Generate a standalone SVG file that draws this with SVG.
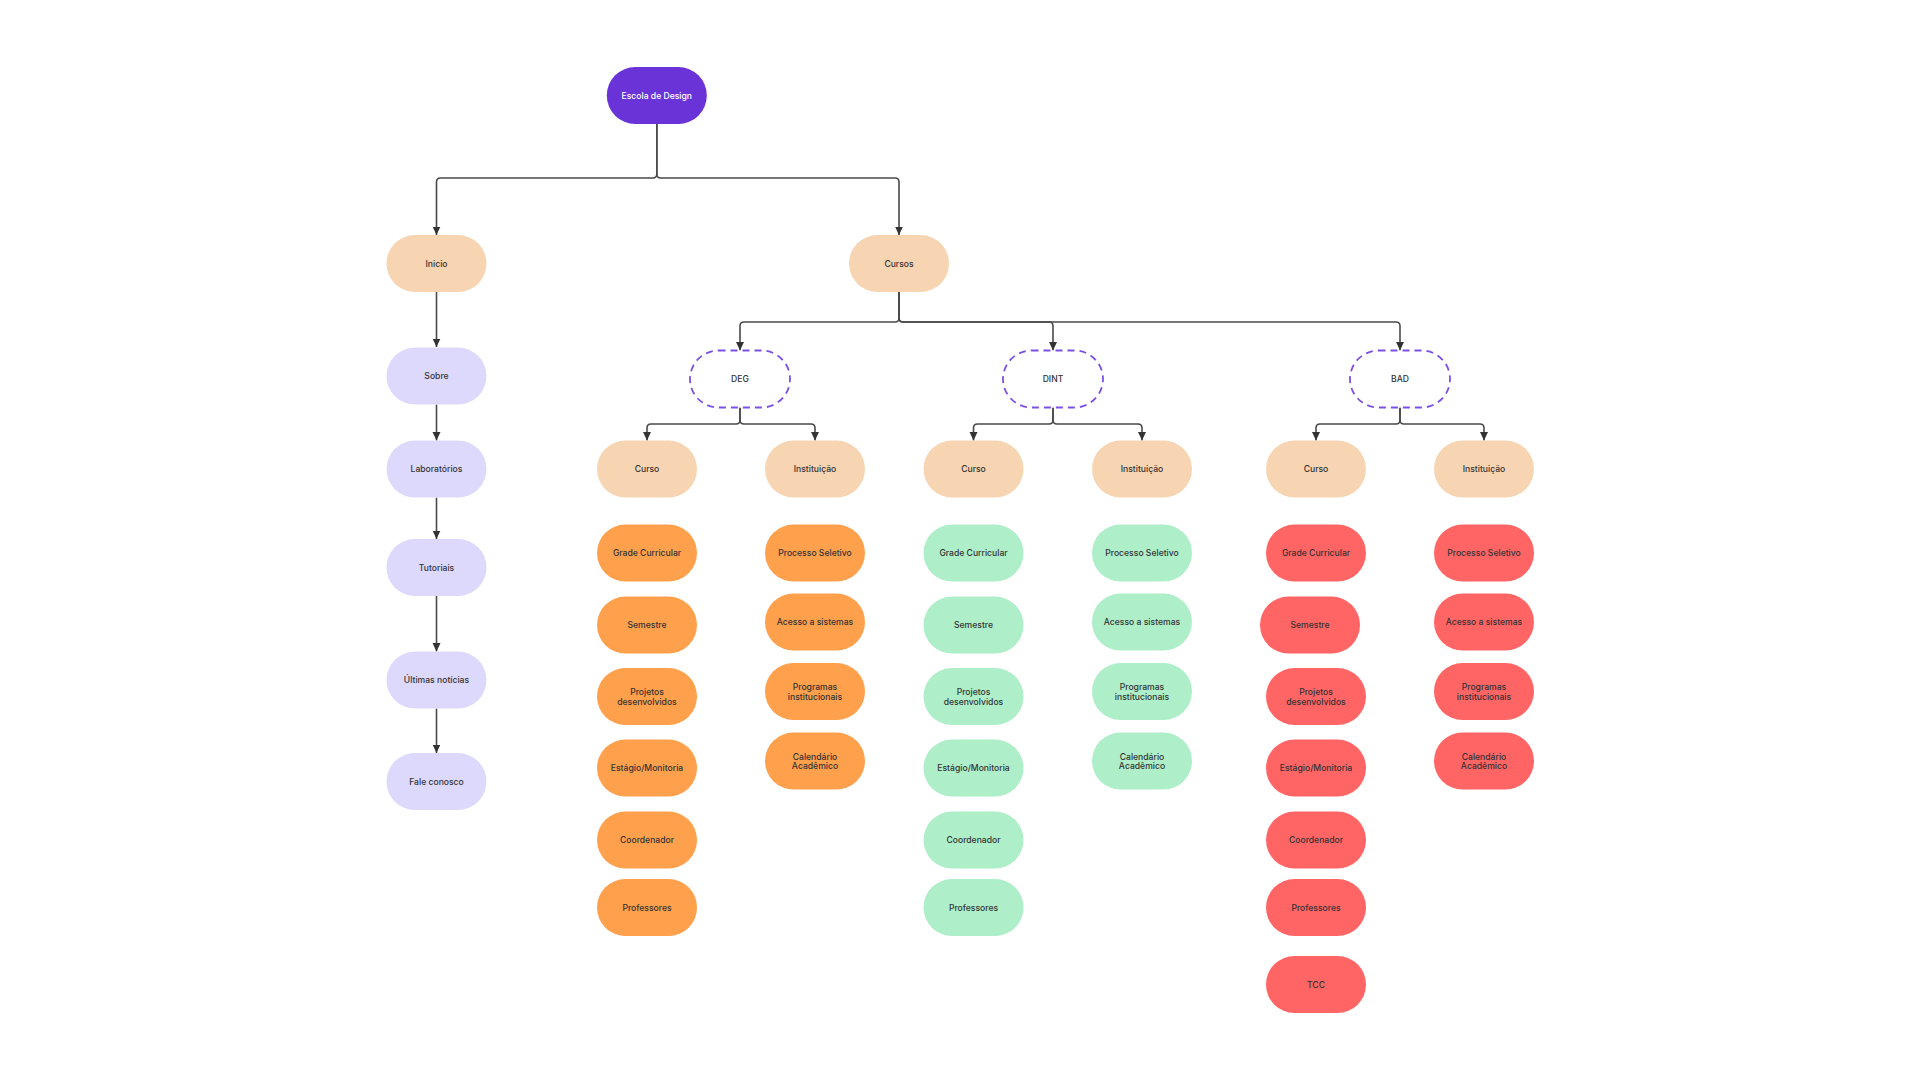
<svg xmlns="http://www.w3.org/2000/svg" width="1920" height="1080" viewBox="0 0 1920 1080">
<style>
text{font-family:Inter,"Noto Sans","Liberation Sans",sans-serif;font-size:8.6px;font-weight:500;fill:#333;text-anchor:middle;dominant-baseline:central}
.n{stroke:none}
.root{fill:#6A33D8}
.root+text{fill:#fff}
.peach{fill:#F8D5B2}
.lav{fill:#DDD9FD}
.org{fill:#FFA04D}
.grn{fill:#AEEFCA}
.red{fill:#FF6565}
.dash{fill:#fff;stroke:#7B50E4;stroke-width:1.8;stroke-dasharray:7 5}
.c{fill:none;stroke:#4a4a4a;stroke-width:1.6;marker-end:url(#ah)}
</style>
<defs>
<marker id="ah" markerUnits="userSpaceOnUse" markerWidth="10" markerHeight="10" refX="8.5" refY="5" orient="auto">
<path d="M0,1 L8.5,5 L0,9 z" fill="#333"/>
</marker>
</defs>
<rect width="1920" height="1080" fill="#fff"/>
<g id="connectors">
<path class="c" d="M656.8 124 V174 Q656.8 178 652.8 178 H440.5 Q436.5 178 436.5 182 V235"/>
<path class="c" d="M656.8 124 V174 Q656.8 178 660.8 178 H895 Q899 178 899 182 V235"/>
<path class="c" d="M436.5 292 V347"/>
<path class="c" d="M436.5 404.5 V440.5"/>
<path class="c" d="M436.5 497.5 V539"/>
<path class="c" d="M436.5 596 V651.5"/>
<path class="c" d="M436.5 708.5 V753"/>
<path class="c" d="M899 291.5 V318 Q899 322 895 322 H744 Q740 322 740 326 V350.5"/>
<path class="c" d="M899 291.5 V318 Q899 322 903 322 H1049 Q1053 322 1053 326 V350.5"/>
<path class="c" d="M899 291.5 V318 Q899 322 903 322 H1396 Q1400 322 1400 326 V350.5"/>
<path class="c" d="M740 407.5 V420 Q740 424 736 424 H651 Q647 424 647 428 V440.5"/>
<path class="c" d="M740 407.5 V420 Q740 424 744 424 H811 Q815 424 815 428 V440.5"/>
<path class="c" d="M1053 407.5 V420 Q1053 424 1049 424 H977.5 Q973.5 424 973.5 428 V440.5"/>
<path class="c" d="M1053 407.5 V420 Q1053 424 1057 424 H1138 Q1142 424 1142 428 V440.5"/>
<path class="c" d="M1400 407.5 V420 Q1400 424 1396 424 H1320 Q1316 424 1316 428 V440.5"/>
<path class="c" d="M1400 407.5 V420 Q1400 424 1404 424 H1480 Q1484 424 1484 428 V440.5"/>
</g>
<g id="escola"><rect class="n root" x="606.8" y="67" width="100" height="57" rx="28.5"/><text x="656.8" y="95.5">Escola de Design</text></g>
<g id="inicio"><rect class="n peach" x="386.5" y="235" width="100" height="57" rx="28.5"/><text x="436.5" y="263.5">Inicio</text></g>
<g id="cursos"><rect class="n peach" x="849" y="235" width="100" height="57" rx="28.5"/><text x="899" y="263.5">Cursos</text></g>
<g id="sobre"><rect class="n lav" x="386.5" y="347.5" width="100" height="57" rx="28.5"/><text x="436.5" y="376">Sobre</text></g>
<g id="laboratorios"><rect class="n lav" x="386.5" y="440.5" width="100" height="57" rx="28.5"/><text x="436.5" y="469">Laboratórios</text></g>
<g id="tutoriais"><rect class="n lav" x="386.5" y="539" width="100" height="57" rx="28.5"/><text x="436.5" y="567.5">Tutoriais</text></g>
<g id="ultimas"><rect class="n lav" x="386.5" y="651.5" width="100" height="57" rx="28.5"/><text x="436.5" y="680">Últimas notícias</text></g>
<g id="fale"><rect class="n lav" x="386.5" y="753" width="100" height="57" rx="28.5"/><text x="436.5" y="781.5">Fale conosco</text></g>

<g id="deg"><rect class="dash" x="690" y="350.5" width="100" height="57" rx="28.5"/><text x="740" y="379">DEG</text></g>
<g id="dint"><rect class="dash" x="1003" y="350.5" width="100" height="57" rx="28.5"/><text x="1053" y="379">DINT</text></g>
<g id="bad"><rect class="dash" x="1350" y="350.5" width="100" height="57" rx="28.5"/><text x="1400" y="379">BAD</text></g>

<g id="deg-curso"><rect class="n peach" x="597" y="440.5" width="100" height="57" rx="28.5"/><text x="647" y="469">Curso</text></g>
<g id="deg-inst"><rect class="n peach" x="765" y="440.5" width="100" height="57" rx="28.5"/><text x="815" y="469">Instituição</text></g>
<g id="dint-curso"><rect class="n peach" x="923.5" y="440.5" width="100" height="57" rx="28.5"/><text x="973.5" y="469">Curso</text></g>
<g id="dint-inst"><rect class="n peach" x="1092" y="440.5" width="100" height="57" rx="28.5"/><text x="1142" y="469">Instituição</text></g>
<g id="bad-curso"><rect class="n peach" x="1266" y="440.5" width="100" height="57" rx="28.5"/><text x="1316" y="469">Curso</text></g>
<g id="bad-inst"><rect class="n peach" x="1434" y="440.5" width="100" height="57" rx="28.5"/><text x="1484" y="469">Instituição</text></g>

<!-- DEG leaves -->
<g id="deg-grade"><rect class="n org" x="597" y="524.5" width="100" height="57" rx="28.5"/><text x="647" y="553">Grade Curricular</text></g>
<g id="deg-semestre"><rect class="n org" x="597" y="596.5" width="100" height="57" rx="28.5"/><text x="647" y="625">Semestre</text></g>
<g id="deg-projetos"><rect class="n org" x="597" y="668" width="100" height="57" rx="28.5"/><text x="647" y="692">Projetos</text><text x="647" y="701.5">desenvolvidos</text></g>
<g id="deg-estagio"><rect class="n org" x="597" y="739.5" width="100" height="57" rx="28.5"/><text x="647" y="768">Estágio/Monitoria</text></g>
<g id="deg-coord"><rect class="n org" x="597" y="811.5" width="100" height="57" rx="28.5"/><text x="647" y="840">Coordenador</text></g>
<g id="deg-prof"><rect class="n org" x="597" y="879" width="100" height="57" rx="28.5"/><text x="647" y="907.5">Professores</text></g>
<g id="deg-processo"><rect class="n org" x="765" y="524.5" width="100" height="57" rx="28.5"/><text x="815" y="553">Processo Seletivo</text></g>
<g id="deg-acesso"><rect class="n org" x="765" y="593.5" width="100" height="57" rx="28.5"/><text x="815" y="622">Acesso a sistemas</text></g>
<g id="deg-programas"><rect class="n org" x="765" y="663" width="100" height="57" rx="28.5"/><text x="815" y="687">Programas</text><text x="815" y="696.5">institucionais</text></g>
<g id="deg-calendario"><rect class="n org" x="765" y="732.5" width="100" height="57" rx="28.5"/><text x="815" y="756.5">Calendário</text><text x="815" y="766">Acadêmico</text></g>

<!-- DINT leaves -->
<g id="dint-grade"><rect class="n grn" x="923.5" y="524.5" width="100" height="57" rx="28.5"/><text x="973.5" y="553">Grade Curricular</text></g>
<g id="dint-semestre"><rect class="n grn" x="923.5" y="596.5" width="100" height="57" rx="28.5"/><text x="973.5" y="625">Semestre</text></g>
<g id="dint-projetos"><rect class="n grn" x="923.5" y="668" width="100" height="57" rx="28.5"/><text x="973.5" y="692">Projetos</text><text x="973.5" y="701.5">desenvolvidos</text></g>
<g id="dint-estagio"><rect class="n grn" x="923.5" y="739.5" width="100" height="57" rx="28.5"/><text x="973.5" y="768">Estágio/Monitoria</text></g>
<g id="dint-coord"><rect class="n grn" x="923.5" y="811.5" width="100" height="57" rx="28.5"/><text x="973.5" y="840">Coordenador</text></g>
<g id="dint-prof"><rect class="n grn" x="923.5" y="879" width="100" height="57" rx="28.5"/><text x="973.5" y="907.5">Professores</text></g>
<g id="dint-processo"><rect class="n grn" x="1092" y="524.5" width="100" height="57" rx="28.5"/><text x="1142" y="553">Processo Seletivo</text></g>
<g id="dint-acesso"><rect class="n grn" x="1092" y="593.5" width="100" height="57" rx="28.5"/><text x="1142" y="622">Acesso a sistemas</text></g>
<g id="dint-programas"><rect class="n grn" x="1092" y="663" width="100" height="57" rx="28.5"/><text x="1142" y="687">Programas</text><text x="1142" y="696.5">institucionais</text></g>
<g id="dint-calendario"><rect class="n grn" x="1092" y="732.5" width="100" height="57" rx="28.5"/><text x="1142" y="756.5">Calendário</text><text x="1142" y="766">Acadêmico</text></g>

<!-- BAD leaves -->
<g id="bad-grade"><rect class="n red" x="1266" y="524.5" width="100" height="57" rx="28.5"/><text x="1316" y="553">Grade Curricular</text></g>
<g id="bad-semestre"><rect class="n red" x="1260" y="596.5" width="100" height="57" rx="28.5"/><text x="1310" y="625">Semestre</text></g>
<g id="bad-projetos"><rect class="n red" x="1266" y="668" width="100" height="57" rx="28.5"/><text x="1316" y="692">Projetos</text><text x="1316" y="701.5">desenvolvidos</text></g>
<g id="bad-estagio"><rect class="n red" x="1266" y="739.5" width="100" height="57" rx="28.5"/><text x="1316" y="768">Estágio/Monitoria</text></g>
<g id="bad-coord"><rect class="n red" x="1266" y="811.5" width="100" height="57" rx="28.5"/><text x="1316" y="840">Coordenador</text></g>
<g id="bad-prof"><rect class="n red" x="1266" y="879" width="100" height="57" rx="28.5"/><text x="1316" y="907.5">Professores</text></g>
<g id="bad-tcc"><rect class="n red" x="1266" y="956" width="100" height="57" rx="28.5"/><text x="1316" y="984.5">TCC</text></g>
<g id="bad-processo"><rect class="n red" x="1434" y="524.5" width="100" height="57" rx="28.5"/><text x="1484" y="553">Processo Seletivo</text></g>
<g id="bad-acesso"><rect class="n red" x="1434" y="593.5" width="100" height="57" rx="28.5"/><text x="1484" y="622">Acesso a sistemas</text></g>
<g id="bad-programas"><rect class="n red" x="1434" y="663" width="100" height="57" rx="28.5"/><text x="1484" y="687">Programas</text><text x="1484" y="696.5">institucionais</text></g>
<g id="bad-calendario"><rect class="n red" x="1434" y="732.5" width="100" height="57" rx="28.5"/><text x="1484" y="756.5">Calendário</text><text x="1484" y="766">Acadêmico</text></g>
</svg>
